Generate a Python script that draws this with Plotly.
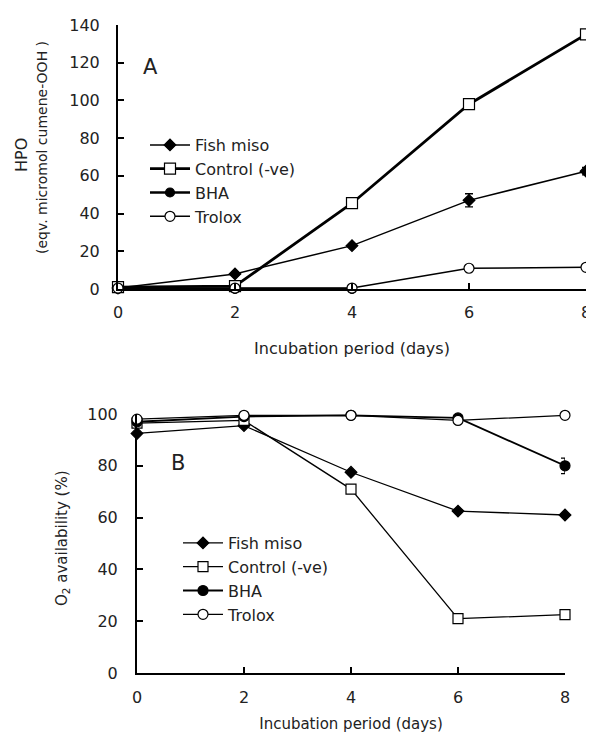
import plotly.graph_objects as go

# ---- data ----
days = [0, 2, 4, 6, 8]
x_ticks = [0, 2, 4, 6, 8]

# Panel A: HPO (eqv. micromol cumene-OOH)
a_fish = [0.5, 8.0, 23.0, 47.0, 62.5]
a_fish_err = [0, 0, 0, 3.5, 2.0]
a_control = [1.0, 1.5, 45.5, 98.0, 135.0]
a_bha = [0.0, 0.0, 0.0, None, None]
a_trolox = [0.5, 0.5, 0.5, 11.0, 11.5]
a_y_ticks = [0, 20, 40, 60, 80, 100, 120, 140]

# Panel B: O2 availability (%)
b_fish = [92.5, 95.5, 77.5, 62.5, 61.0]
b_control = [96.5, 97.5, 71.0, 21.0, 22.5]
b_bha = [97.0, 99.0, 99.5, 98.5, 80.0]
b_bha_err = [0, 0, 0, 0, 3.0]
b_trolox = [98.0, 99.5, 99.5, 97.5, 99.5]
b_trolox_err = [2.5, 0, 0, 0, 0]
b_y_ticks = [0, 20, 40, 60, 80, 100]

names = ["Fish miso", "Control (-ve)", "BHA", "Trolox"]

FONT = "DejaVu Sans"
TXT = "#222222"
OFF = 8            # page body margin of the browser
W, H = 594 - OFF, 733 - OFF

fig = go.Figure()

def add(x, y, name, symbol, fill, size, lw, xa, ya, legend, rank, err=None):
    kw = {}
    if err is not None:
        kw["error_y"] = dict(type="data", array=err, visible=True, color="black",
                             thickness=1.3, width=4)
    fig.add_trace(go.Scatter(
        x=x, y=y, name=name, mode="lines+markers",
        line=dict(color="black", width=lw),
        marker=dict(symbol=symbol, size=size, color=fill,
                    line=dict(color="black", width=1.2)),
        xaxis=xa, yaxis=ya, legend=legend, legendrank=rank,
        cliponaxis=False, **kw))

# Panel A (draw order chosen so open markers sit on top)
add(days, a_fish, names[0], "diamond", "black", 9, 1.5, "x", "y", "legend", 1, a_fish_err)
add(days, a_bha, names[2], "circle", "black", 9, 2.5, "x", "y", "legend", 3)
add(days, a_control, names[1], "square", "white", 11, 2.8, "x", "y", "legend", 2)
add(days, a_trolox, names[3], "circle", "white", 10, 1.5, "x", "y", "legend", 4)

# Panel B
add(days, b_fish, names[0], "diamond", "black", 9, 1.3, "x2", "y2", "legend2", 1)
add(days, b_control, names[1], "square", "white", 10, 1.3, "x2", "y2", "legend2", 2)
add(days, b_bha, names[2], "circle", "black", 10, 1.8, "x2", "y2", "legend2", 3, b_bha_err)
add(days, b_trolox, names[3], "circle", "white", 10, 1.3, "x2", "y2", "legend2", 4, b_trolox_err)

def px(xp):
    return (xp - OFF) / W

def py(yp):
    return 1 - (yp - OFF) / H

axis_common = dict(showgrid=False, zeroline=False, showline=True, linecolor="black",
                   ticks="inside", ticklen=6, tickcolor="black", tickwidth=1.5,
                   automargin=False, ticklabeloverflow="allow",
                   tickfont=dict(family=FONT, size=16, color=TXT))

fig.update_layout(
    width=W, height=H, margin=dict(l=0, r=0, t=0, b=0, autoexpand=False),
    paper_bgcolor="white", plot_bgcolor="white",
    font=dict(family=FONT, size=16, color=TXT),
    xaxis=dict(domain=[px(118), px(586)], range=[0, 8], tickvals=x_ticks,
               anchor="y", linewidth=1.5, ticklabelstandoff=8,
               title=dict(text="Incubation period (days)",
                          font=dict(family=FONT, size=16, color=TXT), standoff=22),
               **axis_common),
    yaxis=dict(domain=[py(289), py(25)], range=[0, 140], tickvals=a_y_ticks,
               anchor="x", linewidth=2, ticklabelstandoff=13, **axis_common),
    xaxis2=dict(domain=[px(137), px(565)], range=[0, 8], tickvals=x_ticks,
                anchor="y2", linewidth=1.5, ticklabelstandoff=9,
                title=dict(text="Incubation period (days)",
                           font=dict(family=FONT, size=15, color=TXT), standoff=15),
                **axis_common),
    yaxis2=dict(domain=[py(673), py(414)], range=[0, 100], tickvals=b_y_ticks,
                anchor="x2", linewidth=2, ticklabelstandoff=14, **axis_common),
    legend=dict(x=px(145), y=py(128), xanchor="left", yanchor="top",
                bgcolor="rgba(0,0,0,0)", borderwidth=0,
                font=dict(family=FONT, size=16, color=TXT), itemwidth=40),
    legend2=dict(x=px(178), y=py(526), xanchor="left", yanchor="top",
                 bgcolor="rgba(0,0,0,0)", borderwidth=0,
                 font=dict(family=FONT, size=16, color=TXT), itemwidth=40),
    annotations=[
        dict(text="HPO", x=px(21), y=py(155), xref="paper", yref="paper",
             textangle=-90, showarrow=False, xanchor="center", yanchor="middle",
             font=dict(family=FONT, size=16, color=TXT)),
        dict(text="(eqv. micromol cumene-OOH )", x=px(42), y=py(148), xref="paper", yref="paper",
             textangle=-90, showarrow=False, xanchor="center", yanchor="middle",
             font=dict(family=FONT, size=14, color=TXT)),
        dict(text="O<sub>2</sub> availability (%)", x=px(62), y=py(538), xref="paper", yref="paper",
             textangle=-90, showarrow=False, xanchor="center", yanchor="middle",
             font=dict(family=FONT, size=15, color=TXT)),
        dict(text="A", x=px(150), y=py(67), xref="paper", yref="paper",
             showarrow=False, xanchor="center", yanchor="middle",
             font=dict(family=FONT, size=21, color=TXT)),
        dict(text="B", x=px(178), y=py(463), xref="paper", yref="paper",
             showarrow=False, xanchor="center", yanchor="middle",
             font=dict(family=FONT, size=21, color=TXT)),
    ],
)

fig.write_html("out.html")
